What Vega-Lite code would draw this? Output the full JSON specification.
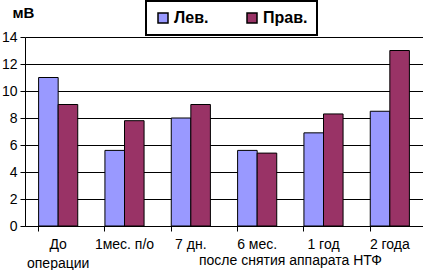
{
  "$schema": "https://vega.github.io/schema/vega-lite/v6.json",
  "autosize": "none",
  "width": 398,
  "height": 189,
  "padding": {"left": 25, "top": 37, "right": 0, "bottom": 44},
  "background": "white",
  "config": {
    "font": "Liberation Sans",
    "view": {"stroke": null}
  },
  "data": {
    "values": [
      {"period": "До|операции", "side": "Лев.", "value": 11},
      {"period": "До|операции", "side": "Прав.", "value": 9},
      {"period": "1мес. п/о", "side": "Лев.", "value": 5.6},
      {"period": "1мес. п/о", "side": "Прав.", "value": 7.8},
      {"period": "7 дн.", "side": "Лев.", "value": 8},
      {"period": "7 дн.", "side": "Прав.", "value": 9},
      {"period": "6 мес.", "side": "Лев.", "value": 5.6},
      {"period": "6 мес.", "side": "Прав.", "value": 5.4},
      {"period": "1 год", "side": "Лев.", "value": 6.9},
      {"period": "1 год", "side": "Прав.", "value": 8.3},
      {"period": "2 года", "side": "Лев.", "value": 8.5},
      {"period": "2 года", "side": "Прав.", "value": 13}
    ]
  },
  "mark": {"type": "bar", "stroke": "black", "strokeWidth": 1},
  "encoding": {
    "x": {
      "field": "period",
      "type": "nominal",
      "sort": null,
      "scale": {"paddingInner": 0.41, "paddingOuter": 0.205},
      "axis": {
        "title": "после снятия аппарата НТФ",
        "titleFont": "Liberation Sans",
        "titleFontSize": 14,
        "titleFontWeight": "normal",
        "titleColor": "black",
        "titleX": 265,
        "titleY": 34,
        "titleAlign": "center",
        "titleBaseline": "middle",
        "labelAngle": 0,
        "labelExpr": "split(datum.label, '|')",
        "labelFontSize": 14,
        "labelColor": "black",
        "labelPadding": 6,
        "labelLineHeight": 19,
        "labelBaseline": "top",
        "bandPosition": 0,
        "domainColor": "black",
        "domainWidth": 1,
        "tickColor": "black",
        "tickSize": 5,
        "grid": false
      }
    },
    "xOffset": {"field": "side", "type": "nominal"},
    "y": {
      "field": "value",
      "type": "quantitative",
      "scale": {"domain": [0, 14], "nice": false},
      "axis": {
        "values": [0, 2, 4, 6, 8, 10, 12, 14],
        "title": "мВ",
        "titleAngle": 0,
        "titleFontSize": 15,
        "titleFontWeight": "bold",
        "titleColor": "black",
        "titleX": -13,
        "titleY": -25,
        "titleAlign": "left",
        "titleBaseline": "middle",
        "labelFontSize": 14,
        "labelColor": "black",
        "labelPadding": 3,
        "domainColor": "black",
        "tickColor": "black",
        "tickSize": 5,
        "grid": true,
        "gridColor": "black",
        "gridWidth": 1,
        "gridOpacity": 1
      }
    },
    "color": {
      "field": "side",
      "type": "nominal",
      "scale": {"domain": ["Лев.", "Прав."], "range": ["#9999FF", "#993366"]},
      "legend": {
        "title": null,
        "orient": "none",
        "direction": "horizontal",
        "legendX": 121,
        "legendY": -36,
        "strokeColor": "black",
        "fillColor": "white",
        "padding": 9,
        "symbolType": "square",
        "symbolSize": 100,
        "symbolStrokeColor": "black",
        "symbolStrokeWidth": 1.5,
        "symbolOpacity": 1,
        "labelFontSize": 16,
        "labelFontWeight": "bold",
        "labelColor": "black",
        "columnPadding": 35,
        "labelOffset": 3,
        "encode": {"legend": {"update": {"strokeWidth": {"value": 2}}}}
      }
    }
  }
}
